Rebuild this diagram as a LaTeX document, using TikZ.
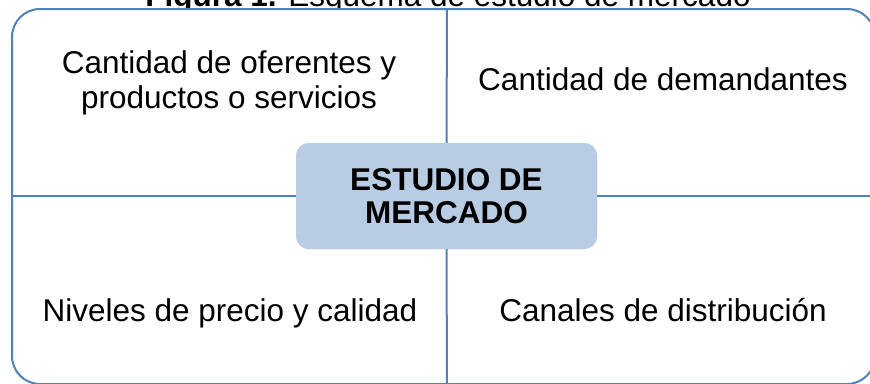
\documentclass[tikz,border=0pt]{standalone}
\usepackage{fontspec}
\setmainfont{Liberation Sans}
\definecolor{lineblue}{HTML}{4F81BD}
\definecolor{boxblue}{HTML}{B8CCE4}
\begin{document}
\begin{tikzpicture}[x=1pt,y=-1pt,
  frame/.style={draw=lineblue,line width=2pt},
  body/.style={inner sep=0pt,font=\fontsize{31.5}{35.2}\selectfont,align=center},
  core/.style={fill=boxblue,rounded corners=13pt,minimum width=301pt,minimum height=106pt,
    inner sep=0pt,align=center,font=\fontsize{31.5}{32.4}\selectfont\bfseries}]
\useasboundingbox (0,0) rectangle (870,383);
\node[anchor=base,inner sep=0pt,font=\fontsize{31.5}{36}\selectfont] (title) at (448,6.5)
  {\textbf{Figura 1.} Esquema de estudio de mercado};
\draw[frame,fill=white,rounded corners=28pt] (12,9) rectangle (875,384);
\coordinate (topmid) at (447,9);
\coordinate (botmid) at (447,384);
\coordinate (leftmid) at (12,196);
\coordinate (rightmid) at (875,196);
\node[core] (core) at (446.5,196) {ESTUDIO DE\\MERCADO};
\draw[frame] (topmid) -- (core.north);
\draw[frame] (core.south) -- (botmid);
\draw[frame] (leftmid) -- (core.west);
\draw[frame] (core.east) -- (rightmid);
\node[core] at (446.5,196) {ESTUDIO DE\\MERCADO};
\node[body] (q1) at (229,82.7) {Cantidad de oferentes y\\productos o servicios};
\node[body,anchor=base] (q2) at (663,90) {Cantidad de demandantes};
\node[body,anchor=base] (q3) at (230,321.7) {Niveles de precio y calidad};
\node[body,anchor=base] (q4) at (663,321.7) {Canales de distribución};
\end{tikzpicture}
\end{document}
